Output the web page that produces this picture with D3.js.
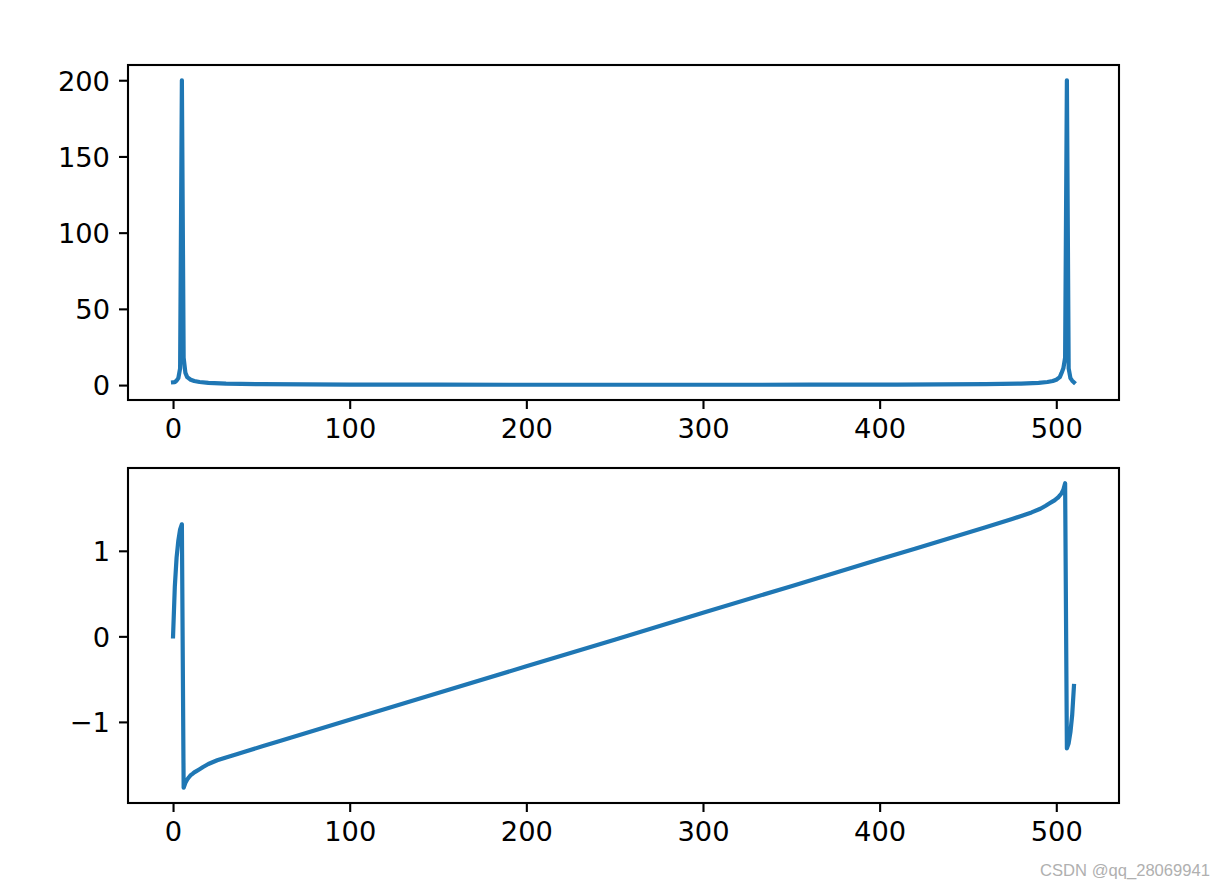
<!DOCTYPE html>
<html>
<head>
<meta charset="utf-8">
<script src="https://cdn.jsdelivr.net/npm/d3@7"></script>
<style>
  body { margin: 0; background: #fff; }
  svg { display: block; }
  .tick text { font-family: "DejaVu Sans", sans-serif; font-size: 27.3px; fill: #000; }
  .credit { font-family: "Liberation Sans", Arial, sans-serif; font-size: 16.6px; fill: #b0b0b0; }
</style>
</head>
<body>
<svg id="chart"></svg>
<script>
// fft of the signal, index 0..510
const magIndex = [0, 1, 2, 3, 4, 5, 6, 7, 8, 10, 12, 15, 20, 30, 50, 75, 100, 150, 200, 255,
  310, 360, 410, 435, 460, 480, 490, 495, 498, 500, 502, 503, 504, 505, 506, 507, 508, 509, 510]
const magValue = [1.8, 1.9, 2.9, 4.6, 11, 200, 18, 8, 5.2, 3.5, 2.7, 2.0, 1.45, 0.95, 0.6, 0.42, 0.33, 0.25, 0.21, 0.2,
  0.21, 0.25, 0.33, 0.42, 0.6, 0.95, 1.45, 2.0, 2.7, 3.5, 5.2, 8, 11, 18, 200, 11, 4.6, 2.9, 1.8]

const phaseIndex = [0, 1, 2, 3, 4, 5, 6, 7, 8, 9, 10, 11, 12, 13, 15, 17, 20, 25, 30, 36, 41, 51, 60,
  100, 150, 200, 250, 300, 350, 400, 420, 440, 460, 470, 475, 481, 486, 491, 494, 496, 498, 499, 500,
  501, 502, 503, 504, 505, 506, 507, 508, 509, 510]
const phaseValue = [0, 0.58, 0.92, 1.12, 1.25, 1.31, -1.77, -1.713, -1.673, -1.647, -1.623, -1.607, -1.59,
  -1.578, -1.553, -1.527, -1.492, -1.449, -1.415, -1.378, -1.345, -1.283, -1.226,
  -0.975, -0.663, -0.35, -0.04, 0.275, 0.587, 0.9, 1.025, 1.15, 1.275, 1.34, 1.372, 1.413, 1.449, 1.492,
  1.527, 1.553, 1.578, 1.59, 1.607, 1.623, 1.647, 1.673, 1.713, 1.79, -1.31, -1.25, -1.12, -0.92, -0.58]

const xTicks = [0, 100, 200, 300, 400, 500]
const magTicks = [0, 50, 100, 150, 200]
const phaseTicks = [-1, 0, 1]

const width = 1225
const height = 887
const left = 128
const right = 1119
const panels = [
  { top: 65, bottom: 400, xs: magIndex, ys: magValue, ticks: magTicks },
  { top: 468, bottom: 803, xs: phaseIndex, ys: phaseValue, ticks: phaseTicks }
]

// matplotlib style 5% padding
function padded(lo, hi) {
  const m = (hi - lo) * 0.05
  return [lo - m, hi + m]
}

const svg = d3.select('#chart')
  .attr('width', width)
  .attr('height', height)

panels.forEach((p, i) => {
  const x = d3.scaleLinear()
    .domain(padded(0, 510))
    .range([left, right])
  const y = d3.scaleLinear()
    .domain(padded(d3.min(p.ys), d3.max(p.ys)))
    .range([p.bottom, p.top])

  const pts = p.xs.map((v, j) => [v, p.ys[j]])

  svg.append('clipPath')
    .attr('id', 'clip' + i)
    .append('rect')
    .attr('x', left).attr('y', p.top)
    .attr('width', right - left).attr('height', p.bottom - p.top)

  svg.append('path')
    .datum(pts)
    .attr('clip-path', `url(#clip${i})`)
    .attr('fill', 'none')
    .attr('stroke', '#1f77b4')
    .attr('stroke-width', 4.2)
    .attr('stroke-linejoin', 'round')
    .attr('stroke-linecap', 'square')
    .attr('d', d3.line().x(d => x(d[0])).y(d => y(d[1])))

  // axes
  const gx = svg.append('g')
    .attr('transform', `translate(0, ${p.bottom})`)
    .call(d3.axisBottom(x).tickValues(xTicks).tickSize(9).tickPadding(9).tickFormat(d3.format('d')))
  const gy = svg.append('g')
    .attr('transform', `translate(${left}, 0)`)
    .call(d3.axisLeft(y).tickValues(p.ticks).tickSize(9).tickPadding(9).tickFormat(d3.format('d')))

  ;[gx, gy].forEach(g => {
    g.select('.domain').remove()
    g.selectAll('.tick line').attr('stroke', '#000').attr('stroke-width', 2.1)
  })
  gx.selectAll('.tick text').attr('dy', '0.73em')
  gy.selectAll('.tick text').attr('dy', '0.36em')

  // frame
  svg.append('rect')
    .attr('x', left).attr('y', p.top)
    .attr('width', right - left).attr('height', p.bottom - p.top)
    .attr('fill', 'none')
    .attr('stroke', '#000')
    .attr('stroke-width', 2.1)
})

svg.append('text')
  .attr('class', 'credit')
  .attr('x', 1210)
  .attr('y', 876)
  .attr('text-anchor', 'end')
  .text('CSDN @qq_28069941')
</script>
</body>
</html>
